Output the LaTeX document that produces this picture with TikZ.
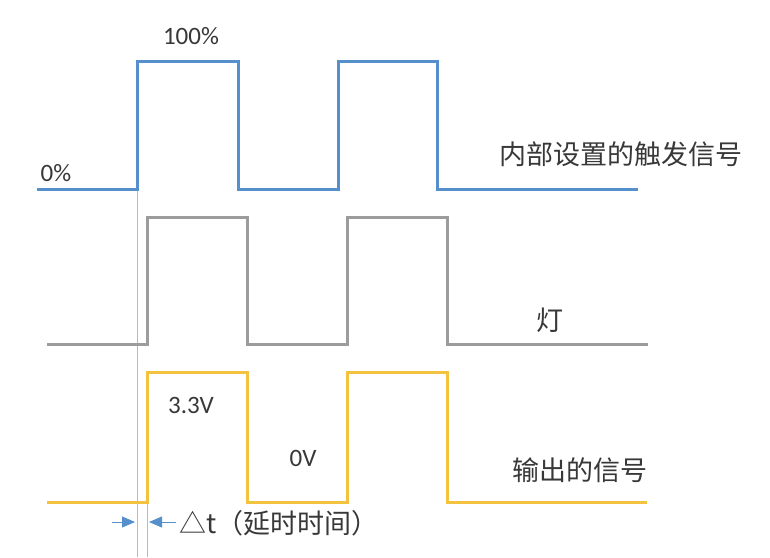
\documentclass[tikz,border=0pt]{standalone}
\usepackage{fontspec}
\setmainfont{Carlito}
\newfontfamily\cjk{Noto Sans CJK SC}
\usetikzlibrary{arrows.meta}
\definecolor{sigblue}{HTML}{5590CC}
\definecolor{siggray}{HTML}{9C9C9C}
\definecolor{sigyellow}{HTML}{F3C23E}
\definecolor{guide}{HTML}{9CC0E6}
\definecolor{txt}{HTML}{383838}
\begin{document}
\begin{tikzpicture}[x=1pt,y=-1pt,
  wave/.style={line width=3pt,line join=miter},
  guideline/.style={draw=guide,line width=1pt},
  lbl/.style={text=txt,inner sep=0pt,font=\fontsize{25}{28}\selectfont},
  cjklbl/.style={text=txt,inner sep=0pt,font=\cjk\fontsize{27}{30}\selectfont},
  dtarrow/.style={draw=sigblue,line width=0.8pt,-{Triangle[length=13pt,width=11pt]}}]
\useasboundingbox (0,0) rectangle (770,557);
% guide lines
\coordinate (g1top) at (137,189);
\coordinate (g1bot) at (137,557);
\coordinate (g2top) at (147,502);
\coordinate (g2bot) at (147,557);
\draw[guideline] (g1top) -- (g1bot);
\draw[guideline] (g2top) -- (g2bot);
% trigger signal
\draw[wave,sigblue] (37,189) -- (137,189) -- (137,61) -- (238,61) -- (238,189) -- (338,189) -- (338,61) -- (437,61) -- (437,189) -- (638,189);
% lamp
\draw[wave,siggray] (47,344) -- (147,344) -- (147,217) -- (247,217) -- (247,344) -- (347,344) -- (347,217) -- (447,217) -- (447,344) -- (648,344);
% output
\draw[wave,sigyellow] (47,502) -- (147,502) -- (147,372) -- (247,372) -- (247,502) -- (347,502) -- (347,372) -- (447,372) -- (447,502) -- (647,502);
% labels
\node[lbl] (p100) at (191,36) {100\%};
\node[lbl] (p0) at (56,173) {0\%};
\node[cjklbl,anchor=west] (trig) at (499,154) {内部设置的触发信号};
\node[cjklbl] (lamp) at (550,320) {灯};
\node[lbl] (v33) at (191,405) {3.3V};
\node[lbl] (v0) at (303,458) {0V};
\node[cjklbl,anchor=west] (outsig) at (512,470) {输出的信号};
\node[cjklbl,anchor=west] (dt) at (179,523) {△t（延时时间）};
% delay arrows
\coordinate (a1s) at (112,522);
\coordinate (a1e) at (135,522);
\coordinate (a2s) at (176,522);
\coordinate (a2e) at (149,522);
\draw[dtarrow] (a1s) -- (a1e);
\draw[dtarrow] (a2s) -- (a2e);
\end{tikzpicture}
\end{document}
